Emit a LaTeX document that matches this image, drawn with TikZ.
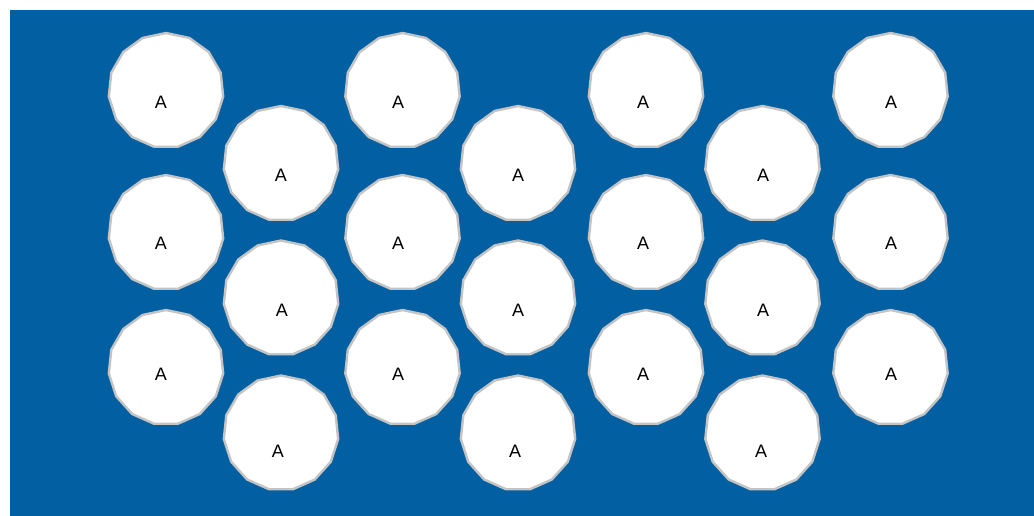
\documentclass[tikz,border=0pt]{standalone}
\usepackage{fontspec}
\setmainfont{Liberation Sans}
\usetikzlibrary{shapes.geometric}
\definecolor{bgblue}{HTML}{0260A2}
\definecolor{rimgray}{HTML}{C4C4C4}
\tikzset{
  blob/.style={regular polygon, regular polygon sides=15, minimum size=115pt, inner sep=0pt,
    fill=white, draw=rimgray, line width=2.4pt},
  lbl/.style={inner sep=0pt, font=\fontsize{18}{18}\selectfont, text=black}
}
\begin{document}
\begin{tikzpicture}[x=1pt,y=-1pt]
\useasboundingbox (0,0) rectangle (1034,516);
\fill[bgblue] (10,10) rectangle (1034,516);
% column 1
\node[blob] (b11) at (166,90.5) {};  \node[lbl] (t11) at (161,102) {A};
\node[blob] (b12) at (166,232.5) {}; \node[lbl] (t12) at (161,243) {A};
\node[blob] (b13) at (166,367.5) {}; \node[lbl] (t13) at (161,374) {A};
% column 2
\node[blob] (b21) at (281,163.5) {}; \node[lbl] (t21) at (281,175) {A};
\node[blob] (b22) at (281,298) {};   \node[lbl] (t22) at (282,310) {A};
\node[blob] (b23) at (281,433) {};   \node[lbl] (t23) at (278,451) {A};
% column 3
\node[blob] (b31) at (402.5,90.5) {};  \node[lbl] (t31) at (398,102) {A};
\node[blob] (b32) at (402.5,232.5) {}; \node[lbl] (t32) at (398,243) {A};
\node[blob] (b33) at (402.5,367.5) {}; \node[lbl] (t33) at (398,374) {A};
% column 4
\node[blob] (b41) at (518,163.5) {}; \node[lbl] (t41) at (518,175) {A};
\node[blob] (b42) at (518,298) {};   \node[lbl] (t42) at (518,310) {A};
\node[blob] (b43) at (518,433) {};   \node[lbl] (t43) at (515,451) {A};
% column 5
\node[blob] (b51) at (646,90.5) {};  \node[lbl] (t51) at (643,102) {A};
\node[blob] (b52) at (646,232.5) {}; \node[lbl] (t52) at (643,243) {A};
\node[blob] (b53) at (646,367.5) {}; \node[lbl] (t53) at (643,374) {A};
% column 6
\node[blob] (b61) at (762.5,163.5) {}; \node[lbl] (t61) at (763,175) {A};
\node[blob] (b62) at (762.5,298) {};   \node[lbl] (t62) at (763,310) {A};
\node[blob] (b63) at (762.5,433) {};   \node[lbl] (t63) at (761,451) {A};
% column 7
\node[blob] (b71) at (890.5,90.5) {};  \node[lbl] (t71) at (891,102) {A};
\node[blob] (b72) at (890.5,232.5) {}; \node[lbl] (t72) at (891,243) {A};
\node[blob] (b73) at (890.5,367.5) {}; \node[lbl] (t73) at (891,374) {A};
\end{tikzpicture}
\end{document}
